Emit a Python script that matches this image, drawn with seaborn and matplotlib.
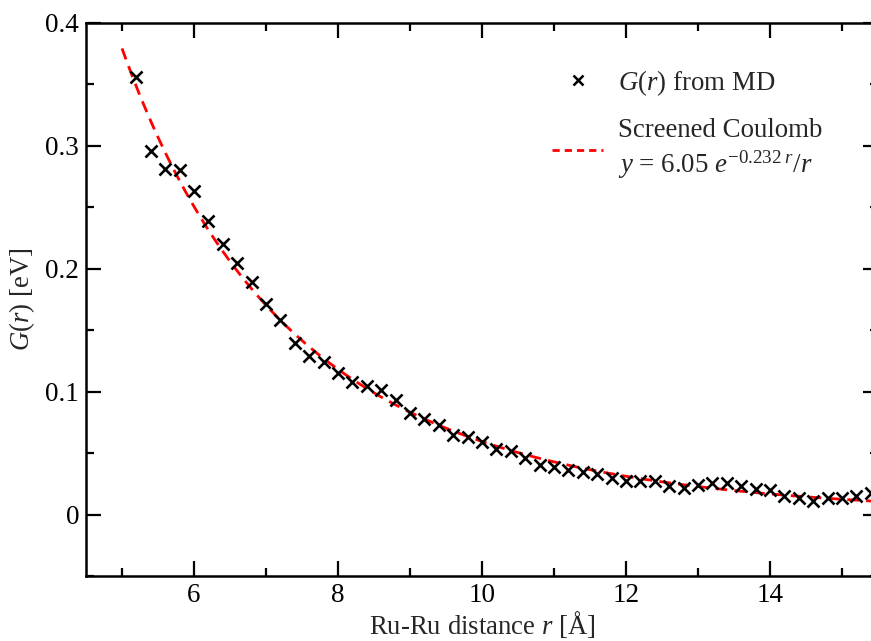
import matplotlib
matplotlib.use('Agg')
import numpy as np
import pandas as pd
import matplotlib.pyplot as plt
from matplotlib.ticker import MultipleLocator
from matplotlib.lines import Line2D
import seaborn as sns

# G(r) from MD
r_md = [5.2, 5.4, 5.6, 5.8, 6.0, 6.2, 6.4, 6.6, 6.8, 7.0,
        7.2, 7.4, 7.6, 7.8, 8.0, 8.2, 8.4, 8.6, 8.8, 9.0,
        9.2, 9.4, 9.6, 9.8, 10.0, 10.2, 10.4, 10.6, 10.8, 11.0,
        11.2, 11.4, 11.6, 11.8, 12.0, 12.2, 12.4, 12.6, 12.8, 13.0,
        13.2, 13.4, 13.6, 13.8, 14.0, 14.2, 14.4, 14.6, 14.8, 15.0,
        15.2, 15.4]
g_md = [0.356, 0.296, 0.281, 0.280, 0.263, 0.239, 0.220, 0.205, 0.189, 0.171,
        0.158, 0.140, 0.129, 0.124, 0.115, 0.108, 0.105, 0.101, 0.0935, 0.083,
        0.078, 0.073, 0.065, 0.063, 0.0588, 0.053, 0.0515, 0.0463, 0.040, 0.039,
        0.0366, 0.0345, 0.033, 0.030, 0.027, 0.027, 0.027, 0.023, 0.022, 0.0244,
        0.0258, 0.0258, 0.023, 0.021, 0.020, 0.0154, 0.0136, 0.0108, 0.0136, 0.0136,
        0.0148, 0.0176]

# screened Coulomb fit, parameters as printed in the legend
fit_amp = 6.05
fit_decay = 0.232
fit_r_start, fit_r_end = 5.0, 15.5

x_ticks = [6, 8, 10, 12, 14]
y_ticks = [0, 0.1, 0.2, 0.3, 0.4]
y_tick_labels = ["0", "0.1", "0.2", "0.3", "0.4"]

df_md = pd.DataFrame({"r": r_md, "G": g_md})
r_fit = np.linspace(fit_r_start, fit_r_end, 300)
df_fit = pd.DataFrame({"r": r_fit, "G": fit_amp * np.exp(-fit_decay * r_fit) / r_fit})

sns.set_theme(style="ticks")
plt.rcParams["font.family"] = ["Liberation Serif", "DejaVu Serif"]
plt.rcParams["mathtext.fontset"] = "custom"
plt.rcParams["mathtext.rm"] = "Liberation Serif"
plt.rcParams["mathtext.it"] = "Liberation Serif:italic"
plt.rcParams["mathtext.bf"] = "Liberation Serif:bold"

fig = plt.figure(figsize=(8.71, 6.41), dpi=100)
ax = fig.add_axes([86 / 871, 65 / 641, 792 / 871, 553 / 641])

sns.lineplot(data=df_fit, x="r", y="G", color="red", linewidth=2.0, ax=ax)
ax.lines[0].set_dashes((4.2, 2.6))
sns.scatterplot(data=df_md, x="r", y="G", marker="x", color="black",
                s=75, linewidth=1.9, ax=ax, zorder=3)

ax.set_xlim(4.5, 15.5)
ax.set_ylim(-0.05, 0.4)
ax.set_xticks(x_ticks)
ax.set_yticks(y_ticks)
ax.set_yticklabels(y_tick_labels)
ax.xaxis.set_minor_locator(MultipleLocator(1))
ax.yaxis.set_minor_locator(MultipleLocator(0.05))
ax.tick_params(which="both", direction="in", top=True, right=True,
               width=1.6, labelsize=19.5, colors="black")
ax.tick_params(which="major", length=11)
ax.tick_params(which="minor", length=5.5)
ax.tick_params(axis="x", pad=5)
ax.tick_params(axis="y", pad=5)
for sp in ax.spines.values():
    sp.set_linewidth(1.8)
    sp.set_color("black")

ax.set_xlabel(r"Ru-Ru distance $r$ [Å]", fontsize=19.3, labelpad=0.5)
ax.set_ylabel(r"$\mathit{G(r)}$ [eV]", fontsize=19.3, labelpad=6)

handles = [
    Line2D([], [], marker="x", color="black", linestyle="none",
           markersize=7, markeredgewidth=1.8),
    Line2D([], [], color="red", linewidth=2.0, dashes=(2.6, 1.8)),
]
labels = [
    r"$\mathit{G(r)}$ from MD",
    "Screened Coulomb\n" + r"$y$ = 6.05 $e^{\mathrm{-0.232}\ r}$/$r$",
]
leg = fig.legend(handles, labels, loc="upper left",
                 bbox_to_anchor=(552 / 871, 1 - 68 / 641), frameon=False,
                 fontsize=19.4, handlelength=1.9, handletextpad=0.55,
                 labelspacing=0.75, borderpad=0, borderaxespad=0)
for t in leg.get_texts():
    t.set_linespacing(1.25)

fig.savefig("out.png", dpi=100)
